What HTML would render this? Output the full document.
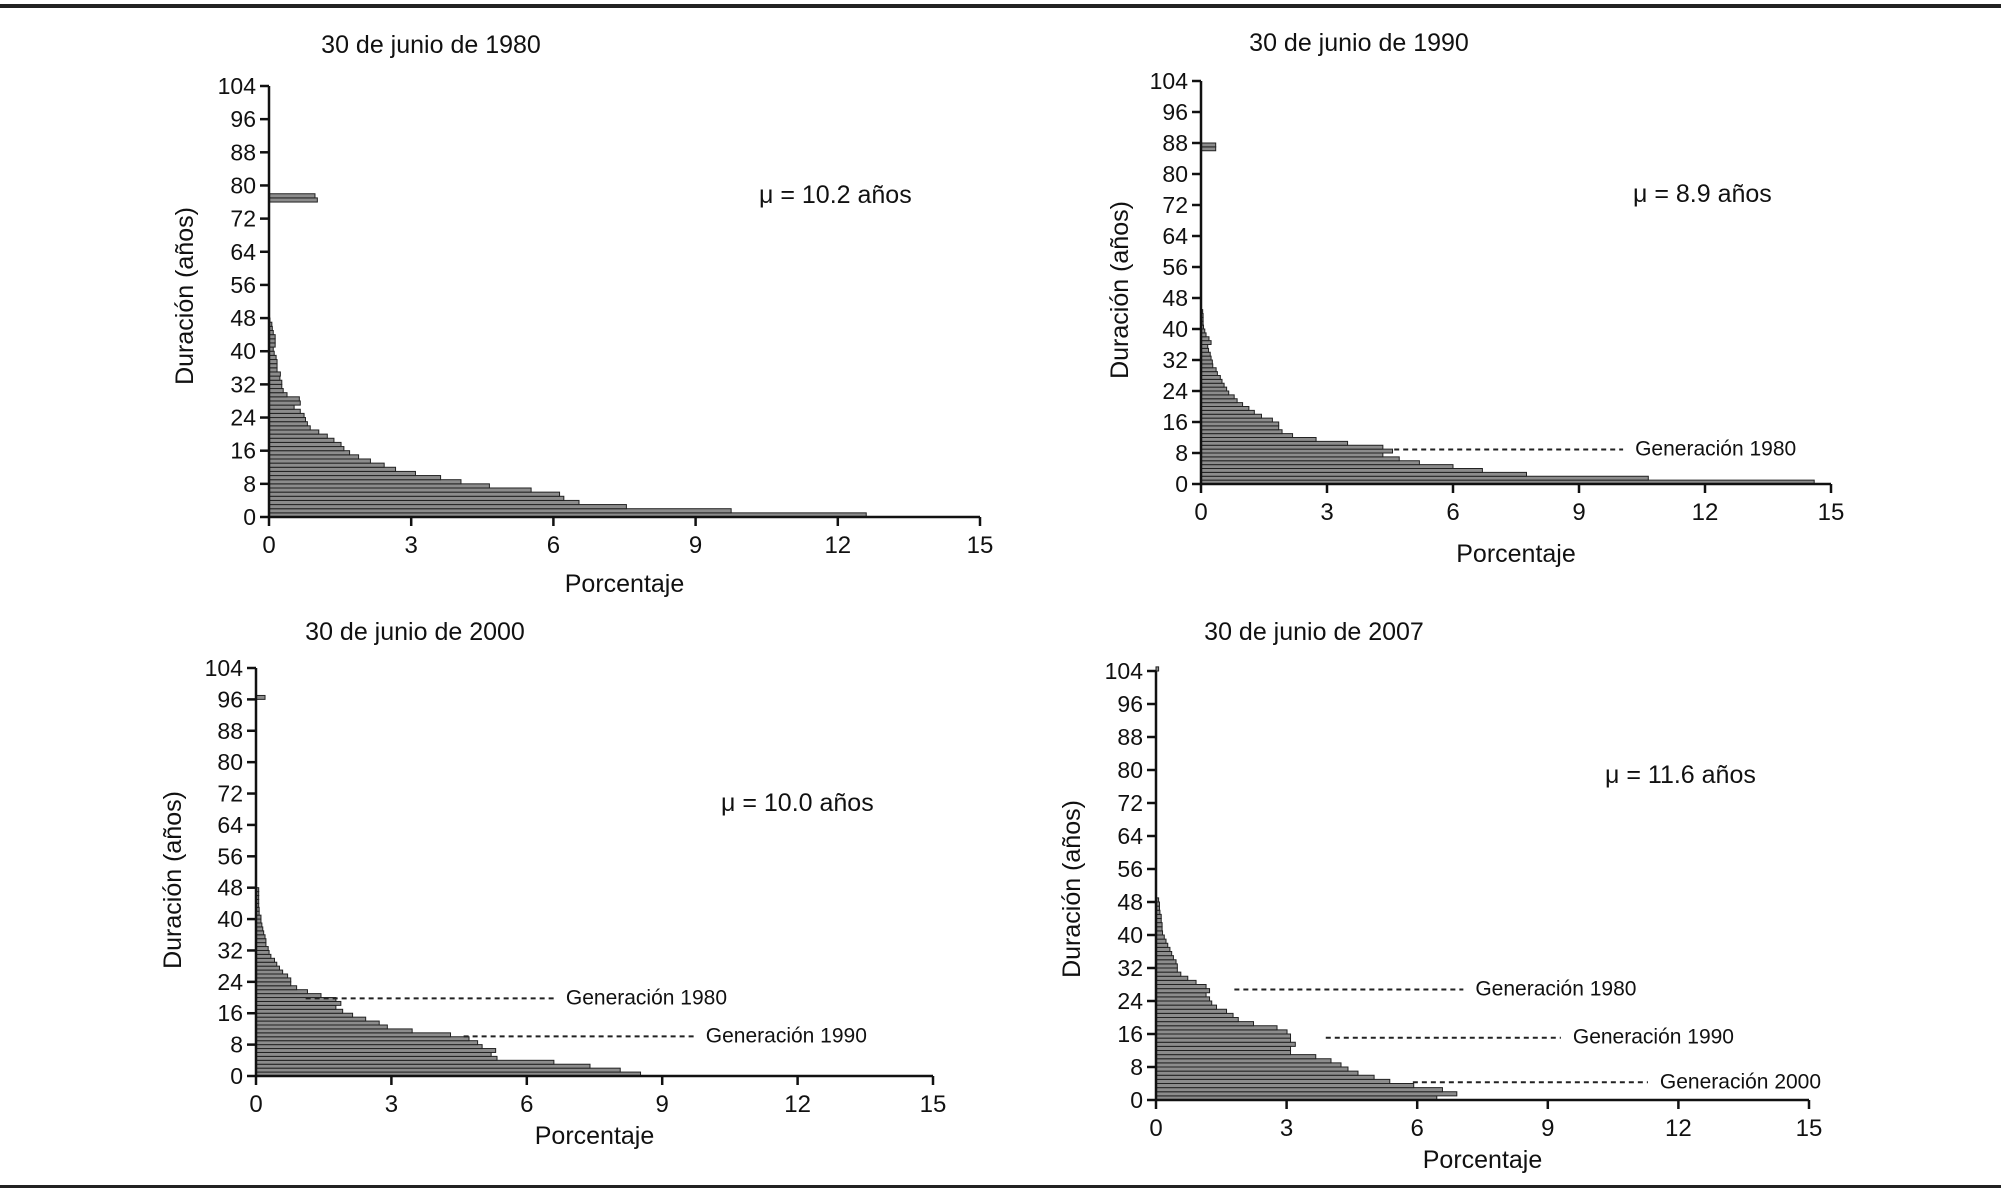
<!DOCTYPE html>
<html><head><meta charset="utf-8">
<style>
html,body{margin:0;padding:0;background:#fff;}
svg{display:block;font-family:"Liberation Sans",Arial,sans-serif;}
</style></head>
<body>
<svg id="fig" width="2001" height="1191" viewBox="0 0 2001 1191" xmlns="http://www.w3.org/2000/svg">
<rect x="0" y="4" width="2001" height="4" fill="#222"/>
<rect x="0" y="1185" width="2001" height="3" fill="#222"/>
</svg>
<script>
// ---- data ----
const yTicks = [0,8,16,24,32,40,48,56,64,72,80,88,96,104];
const xTicks = [0,3,6,9,12,15];
const years1980 = [0,1,2,3,4,5,6,7,8,9,10,11,12,13,14,15,16,17,18,19,20,21,22,23,24,25,26,27,28,29,30,31,32,33,34,35,36,37,38,39,40,41,42,43,44,45,46,47,76,77];
const values1980 = [12.6,9.75,7.54,6.54,6.22,6.13,5.53,4.65,4.05,3.62,3.09,2.67,2.43,2.14,1.89,1.70,1.58,1.52,1.37,1.23,1.05,0.87,0.81,0.77,0.74,0.66,0.53,0.66,0.64,0.38,0.30,0.27,0.27,0.23,0.24,0.17,0.17,0.17,0.15,0.11,0.09,0.13,0.13,0.13,0.09,0.07,0.06,0.02,1.02,0.97];
const years1990 = [0,1,2,3,4,5,6,7,8,9,10,11,12,13,14,15,16,17,18,19,20,21,22,23,24,25,26,27,28,29,30,31,32,33,34,35,36,37,38,39,40,41,42,43,44,86,87];
const values1990 = [14.6,10.65,7.75,6.7,6.0,5.2,4.72,4.33,4.56,4.33,3.49,2.74,2.18,1.93,1.85,1.85,1.70,1.44,1.27,1.14,0.99,0.86,0.79,0.66,0.61,0.55,0.50,0.46,0.39,0.36,0.28,0.27,0.24,0.22,0.18,0.16,0.24,0.19,0.12,0.09,0.06,0.05,0.05,0.05,0.04,0.35,0.35];
const years2000 = [0,1,2,3,4,5,6,7,8,9,10,11,12,13,14,15,16,17,18,19,20,21,22,23,24,25,26,27,28,29,30,31,32,33,34,35,36,37,38,39,40,41,42,43,44,45,46,47,96];
const values2000 = [8.52,8.07,7.4,6.6,5.34,5.21,5.31,5.01,4.91,4.72,4.31,3.46,2.91,2.73,2.43,2.14,1.92,1.77,1.88,1.77,1.44,1.14,0.90,0.77,0.77,0.70,0.59,0.52,0.46,0.41,0.33,0.29,0.27,0.22,0.22,0.20,0.17,0.15,0.13,0.11,0.11,0.07,0.07,0.06,0.06,0.06,0.06,0.06,0.2];
const years2007 = [0,1,2,3,4,5,6,7,8,9,10,11,12,13,14,15,16,17,18,19,20,21,22,23,24,25,26,27,28,29,30,31,32,33,34,35,36,37,38,39,40,41,42,43,44,45,46,47,48,104];
const values2007 = [6.45,6.91,6.58,5.92,5.37,5.01,4.64,4.41,4.25,4.02,3.67,3.09,3.09,3.2,3.09,3.09,3.01,2.78,2.24,1.89,1.77,1.62,1.39,1.28,1.23,1.15,1.23,1.15,0.92,0.73,0.57,0.49,0.49,0.46,0.40,0.36,0.32,0.27,0.23,0.19,0.15,0.14,0.14,0.12,0.12,0.09,0.08,0.08,0.06,0.06];
const titles = ["30 de junio de 1980","30 de junio de 1990","30 de junio de 2000","30 de junio de 2007"];
const means = ["\u03bc = 10.2 años","\u03bc = 8.9 años","\u03bc = 10.0 años","\u03bc = 11.6 años"];
const gen1990Labels = ["Generación 1980"];
const gen1990Y = [8.9]; const gen1990X0 = [4.6]; const gen1990X1 = [10.05];
const gen2000Labels = ["Generación 1980","Generación 1990"];
const gen2000Y = [19.8,10.1]; const gen2000X0 = [1.1,4.6]; const gen2000X1 = [6.6,9.7];
const gen2007Labels = ["Generación 1980","Generación 1990","Generación 2000"];
const gen2007Y = [26.8,15.1,4.3]; const gen2007X0 = [1.8,3.9,5.9]; const gen2007X1 = [7.06,9.3,11.3];

const NS = "http://www.w3.org/2000/svg";
const svg = document.getElementById('fig');
function mk(tag, attrs, parent){
  const e = document.createElementNS(NS, tag);
  for (const k in attrs) e.setAttribute(k, attrs[k]);
  (parent||svg).appendChild(e);
  return e;
}
function panel(cfg, years, values, genLabels, genY, genX0, genX1, idx){
  const g = mk('g', {});
  
  
  const sx = v => cfg.x0 + (cfg.x1 - cfg.x0) * v / 15;
  const sy = v => cfg.y0 - (cfg.y0 - cfg.y1) * v / 104;
  for (let i = 0; i < years.length; i++){
    const yt = sy(years[i] + 1), yb = sy(years[i]);
    const r = mk('rect', {x: sx(0), y: yt, width: Math.max(0.5, sx(values[i]) - sx(0)), height: yb - yt, fill: '#8c8c8c', stroke: '#222', 'stroke-width': 1}, g);
    
    
  }
  const ya = mk('line', {x1: sx(0), y1: sy(104), x2: sx(0), y2: sy(0), stroke: '#111', 'stroke-width': 2.5}, g);
  
  
  const xa = mk('line', {x1: sx(0), y1: sy(0), x2: sx(15), y2: sy(0), stroke: '#111', 'stroke-width': 2.5}, g);
  
  
  yTicks.forEach(t => {
    mk('line', {x1: sx(0) - 9, y1: sy(t), x2: sx(0), y2: sy(t), stroke: '#111', 'stroke-width': 2.5}, g);
    const tl = mk('text', {x: sx(0) - 13, y: sy(t) + 8, 'font-size': 23, 'text-anchor': 'end', fill: '#111'}, g);
    tl.textContent = t;
    
    
  });
  xTicks.forEach(t => {
    mk('line', {x1: sx(t), y1: sy(0), x2: sx(t), y2: sy(0) + 9, stroke: '#111', 'stroke-width': 2.5}, g);
    const tl = mk('text', {x: sx(t), y: sy(0) + 36, 'font-size': 24, 'text-anchor': 'middle', fill: '#111'}, g);
    tl.textContent = t;
    
    
  });
  const tt = mk('text', {x: cfg.tx, y: cfg.ty, 'font-size': 25, 'text-anchor': 'middle', fill: '#111'}, g);
  tt.textContent = titles[idx];
  
  
  const mu = mk('text', {x: cfg.mx, y: cfg.my, 'font-size': 25, fill: '#111'}, g);
  mu.textContent = means[idx];
  
  
  const yt = mk('text', {x: 0, y: 0, 'font-size': 25, 'text-anchor': 'middle', fill: '#111', transform: 'translate(' + cfg.ytx + ',' + cfg.yty + ') rotate(-90)'}, g);
  yt.textContent = 'Duración (años)';
  
  
  const xt = mk('text', {x: (sx(0) + sx(15)) / 2, y: sy(0) + cfg.xtDy, 'font-size': 25, 'text-anchor': 'middle', fill: '#111'}, g);
  xt.textContent = 'Porcentaje';
  
  
  for (let i = 0; i < genLabels.length; i++){
    const dl = mk('line', {x1: sx(genX0[i]), y1: sy(genY[i]), x2: sx(genX1[i]), y2: sy(genY[i]), stroke: '#222', 'stroke-width': 2, 'stroke-dasharray': '5,4'}, g);
    
    
    const gl = mk('text', {x: sx(genX1[i]) + 12, y: sy(genY[i]) + 6, 'font-size': 21, fill: '#111'}, g);
    gl.textContent = genLabels[i];
    
    
  }
}
panel({key:'1980', x0:269, x1:980, y0:517, y1:86, tx:431, ty:53, mx:759, my:203, ytx:193, yty:296, xtDy:75}, years1980, values1980, [], [], [], [], 0);
panel({key:'1990', x0:1201, x1:1831, y0:484, y1:81, tx:1359, ty:51, mx:1633, my:202, ytx:1128, yty:290, xtDy:78}, years1990, values1990, gen1990Labels, gen1990Y, gen1990X0, gen1990X1, 1);
panel({key:'2000', x0:256, x1:933, y0:1076, y1:668, tx:415, ty:640, mx:721, my:811, ytx:181, yty:880, xtDy:68}, years2000, values2000, gen2000Labels, gen2000Y, gen2000X0, gen2000X1, 2);
panel({key:'2007', x0:1156, x1:1809, y0:1100, y1:671, tx:1314, ty:640, mx:1605, my:783, ytx:1080, yty:889, xtDy:68}, years2007, values2007, gen2007Labels, gen2007Y, gen2007X0, gen2007X1, 3);
</script>
</body></html>
